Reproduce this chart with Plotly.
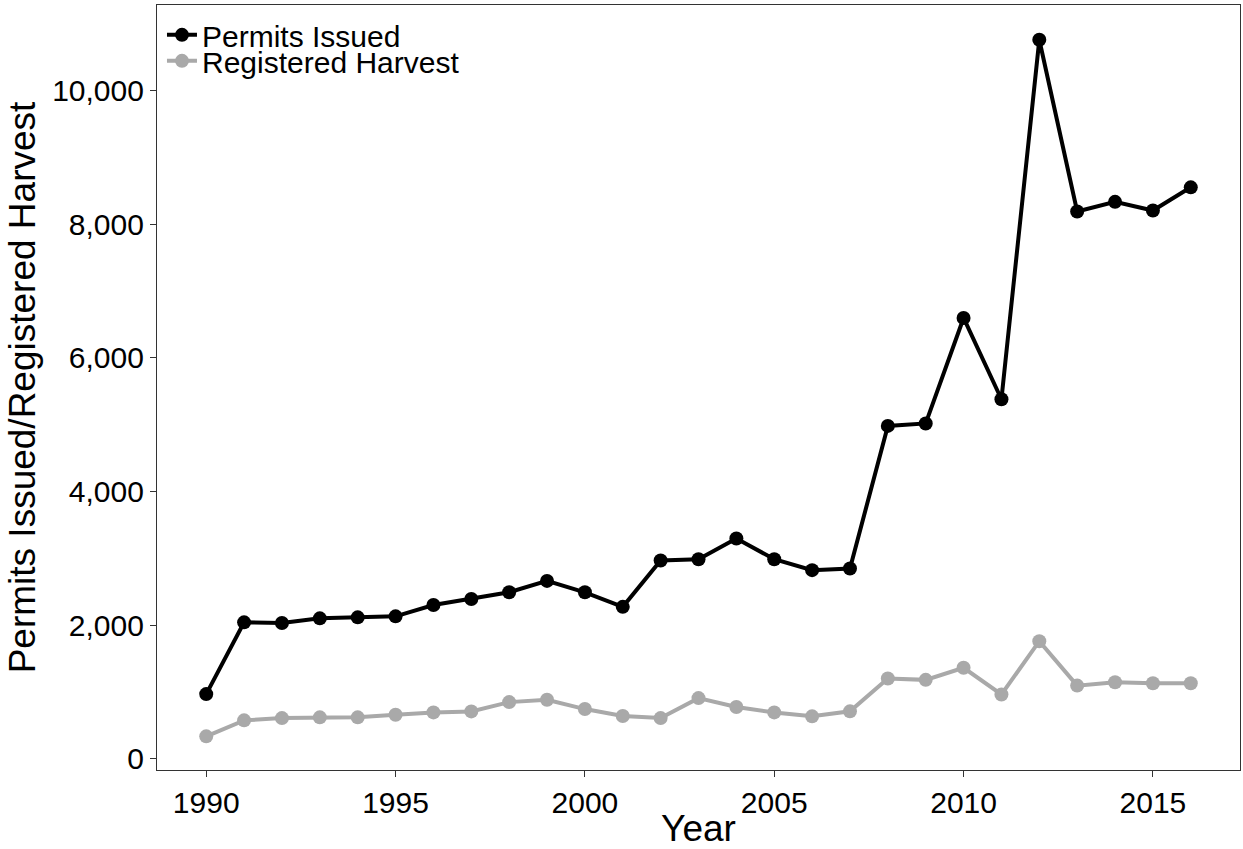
import plotly.graph_objects as go

years = list(range(1990, 2017))
permits_issued = [966, 2040, 2030, 2100, 2115, 2130, 2300, 2390, 2490, 2660, 2490, 2272,
                  2965, 2985, 3294, 2985, 2821, 2846, 4980, 5017, 6596, 5379, 10760,
                  8190, 8334, 8204, 8551]
registered_harvest = [334, 573, 607, 618, 618, 657, 692, 707, 846, 881, 742, 638,
                      607, 906, 772, 692, 633, 708, 1199, 1179, 1360, 961, 1758,
                      1093, 1143, 1128, 1128]
x_ticks = [1990, 1995, 2000, 2005, 2010, 2015]
y_ticks = [0, 2000, 4000, 6000, 8000, 10000]
y_tick_labels = ["0", "2,000", "4,000", "6,000", "8,000", "10,000"]

FONT = "Liberation Sans, Arial, sans-serif"

fig = go.Figure()
fig.add_trace(go.Scatter(
    x=years, y=permits_issued, name="Permits Issued", mode="lines+markers",
    line=dict(color="black", width=4), marker=dict(color="black", size=14),
    legend="legend",
))
fig.add_trace(go.Scatter(
    x=years, y=registered_harvest, name="Registered Harvest", mode="lines+markers",
    line=dict(color="#A9A9A9", width=4), marker=dict(color="#A9A9A9", size=14),
    legend="legend2",
))

leg_common = dict(xanchor="left", yanchor="top", bgcolor="rgba(0,0,0,0)",
                  font=dict(size=30, color="black"), itemwidth=30, borderwidth=0)

fig.update_layout(
    width=1243, height=849,
    margin=dict(l=157, r=2, t=5, b=77),
    paper_bgcolor="white", plot_bgcolor="white",
    font=dict(family=FONT, color="black", size=30),
    showlegend=True,
    legend=dict(x=0.0046, y=0.995, **leg_common),
    legend2=dict(x=0.0046, y=0.961, **leg_common),
    xaxis=dict(
        range=[1988.7, 2017.3], tickvals=x_ticks, ticktext=[str(v) for v in x_ticks],
        showgrid=False, zeroline=False, showline=True, linecolor="#333333", linewidth=1.2,
        mirror=True, ticks="outside", ticklen=6, tickcolor="#333333",
        tickfont=dict(size=30, color="black"),
        title=dict(text="Year", font=dict(size=37, color="black"), standoff=2),
    ),
    yaxis=dict(
        range=[-170, 11280], tickvals=y_ticks, ticktext=y_tick_labels,
        showgrid=False, zeroline=False, showline=True, linecolor="#333333", linewidth=1.2,
        mirror=True, ticks="outside", ticklen=6, tickcolor="#333333",
        tickfont=dict(size=30, color="black"),
        title=dict(text="Permits Issued/Registered Harvest", font=dict(size=37, color="black"), standoff=5),
    ),
)

fig.write_html("out.html", config={"displayModeBar": False},
               post_script="document.body.style.margin='0';")
